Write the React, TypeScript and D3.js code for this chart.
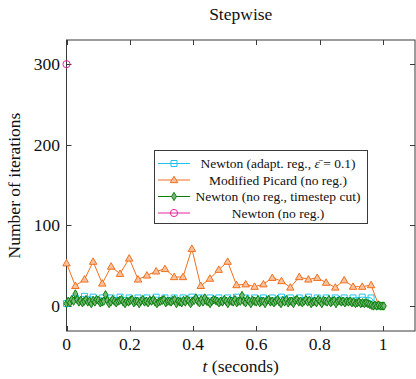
import React, { useRef, useEffect } from 'react';
import { select, scaleLinear, line, symbol, symbolSquare, symbolTriangle, symbolDiamond } from 'd3';

// time of each Picard / adaptive Newton step (seconds)
const stepTimes = [
    0, 0.028, 0.057, 0.084, 0.113, 0.141, 0.169, 0.198, 0.226, 0.254, 0.283, 0.311, 0.34, 0.368, 0.396, 0.424,
    0.453, 0.481, 0.509, 0.537, 0.566, 0.594, 0.622, 0.65, 0.679, 0.707, 0.735, 0.764, 0.792, 0.82, 0.849, 0.877,
    0.905, 0.934, 0.962, 0.985,
];
const picardIters = [
    53, 25, 33, 55, 28, 49, 40, 59, 33, 38, 43, 46, 36, 36, 71, 25, 34, 45, 55, 26, 27, 24, 27, 35, 31, 23, 36, 33,
    35, 29, 23, 32, 24, 24, 26, 2,
];
const adaptIters = [
    3, 10, 12, 11, 10, 10, 11, 10, 10, 10, 11, 10, 10, 10, 11, 10, 10, 10, 10, 11, 10, 10, 10, 10, 11, 10, 10, 11,
    10, 10, 10, 10, 10, 11, 10, 0,
];
// Newton with timestep cut: many small steps
const cutStep = 0.0056;
const cutIters = [
    3, 6, 4, 8, 6, 15, 8, 5, 7, 4, 6, 8, 5, 6, 3, 7, 5, 8, 7, 4,
    5, 6, 14, 7, 3, 5, 8, 6, 4, 6, 7, 8, 5, 3, 6, 5, 7, 8, 4, 6,
    6, 3, 6, 8, 5, 6, 4, 7, 6, 8, 5, 3, 5, 6, 7, 8, 4, 6, 6, 5,
    7, 8, 3, 6, 5, 4, 7, 5, 8, 6, 3, 6, 7, 10, 6, 4, 8, 5, 10, 6,
    5, 3, 6, 8, 7, 6, 4, 6, 5, 8, 6, 3, 7, 6, 5, 8, 4, 6, 6, 13,
    6, 4, 8, 6, 3, 7, 6, 5, 8, 4, 6, 6, 3, 7, 8, 5, 6, 4, 6, 8,
    5, 3, 7, 5, 8, 4, 6, 6, 3, 7, 8, 5, 6, 4, 6, 8, 5, 7, 3, 5,
    6, 4, 8, 6, 3, 7, 6, 5, 8, 4, 6, 7, 3, 6, 7, 5, 6, 4, 6, 5,
    6, 4, 5, 3, 4, 5, 3, 4, 3, 4, 3, 2,
    1, 0, 1, 0, 1, 0, 0, 0,
];
const plainTimes = [0];
const plainIters = [300];

const xTicks = [0, 0.2, 0.4, 0.6, 0.8, 1];
const yTicks = [0, 100, 200, 300];
const legendLabels = [
    'Newton (adapt. reg., ε̄ = 0.1)',
    'Modified Picard (no reg.)',
    'Newton (no reg., timestep cut)',
    'Newton (no reg.)',
];

const fontFamily = "'Liberation Serif', 'Times New Roman', Times, 'DejaVu Serif', serif";
const cyan = '#1fc4ec';
const orange = '#f0701e';
const green = '#0a800a';
const magenta = '#e8259c';

export default function App() {
    const svgRef: { current: SVGSVGElement | null } = useRef(null);

    useEffect(() => {
        const svg = select(svgRef.current);
        svg.selectAll('*').remove();
        const left = 66.5;
        const right = 415;
        const top = 40;
        const bottom = 331;

        const xScale = scaleLinear().domain([0, 1.1]).range([left, left + 1.1 * 316.6]);
        const yScale = scaleLinear().domain([-31, 330]).range([bottom, top]);

        const txt = (x: number, y: number, size: number, anchor = 'middle') =>
            svg.append('text').attr('x', x).attr('y', y).attr('text-anchor', anchor)
                .style('font-family', fontFamily).style('font-size', size + 'px').attr('fill', '#111');

        // title + axis labels
        txt((left + right) / 2, 20, 17.5).text('Stepwise');
        const xl = txt((left + right) / 2, 372, 17.5);
        xl.append('tspan').attr('font-style', 'italic').text('t');
        xl.append('tspan').text(' (seconds)');
        txt(0, 0, 17.5).attr('transform', `translate(20,${(top + bottom) / 2}) rotate(-90)`)
            .text('Number of iterations');

        // axis box and ticks
        const ax = svg.append('g').attr('stroke', '#3a3a3a').attr('stroke-width', 1);
        ax.append('rect').attr('x', left).attr('y', top).attr('width', right - left).attr('height', bottom - top)
            .attr('fill', 'none');
        xTicks.forEach((t) => {
            const x = Math.round(xScale(t)) + 0.5;
            ax.append('line').attr('x1', x).attr('x2', x).attr('y1', bottom).attr('y2', bottom - 5);
            ax.append('line').attr('x1', x).attr('x2', x).attr('y1', top).attr('y2', top + 5);
            txt(xScale(t), 350, 17.5).text(String(t));
        });
        yTicks.forEach((v) => {
            const y = Math.round(yScale(v)) + 0.5;
            ax.append('line').attr('x1', left).attr('x2', left + 5).attr('y1', y).attr('y2', y);
            ax.append('line').attr('x1', right).attr('x2', right - 5).attr('y1', y).attr('y2', y);
            txt(60, yScale(v) + 6, 17.5, 'end').text(String(v));
        });

        const mkLine: any = line<[number, number]>()
            .x((d) => xScale(d[0]))
            .y((d) => yScale(d[1]));

        const series = [
            { pts: stepTimes.map((t, i) => [t, adaptIters[i]]), color: cyan, fill: 'none', shape: 'square' },
            { pts: stepTimes.map((t, i) => [t, picardIters[i]]), color: orange, fill: '#f9c29e', shape: 'triangle' },
            { pts: cutIters.map((v, i) => [i * cutStep, v]), color: green, fill: '#7ab87a', shape: 'diamond' },
            { pts: plainTimes.map((t, i) => [t, plainIters[i]]), color: magenta, fill: 'none', shape: 'circle' },
        ];

        const drawMarker = (g: any, shape: string, color: string, fill: string, x: number, y: number) => {
            if (shape === 'circle') {
                g.append('circle').attr('cx', x).attr('cy', y).attr('r', 3.6)
                    .attr('fill', fill).attr('stroke', color).attr('stroke-width', 1);
                return;
            }
            const type = shape === 'square' ? symbolSquare : shape === 'triangle' ? symbolTriangle : symbolDiamond;
            const size = shape === 'square' ? 36 : shape === 'triangle' ? 24 : 20;
            g.append('path').attr('d', symbol(type, size)())
                .attr('transform', `translate(${x},${y + (shape === 'triangle' ? 0.5 : 0)})`)
                .attr('fill', fill).attr('stroke', color).attr('stroke-width', 1);
        };

        series.forEach((s) => {
            const g = svg.append('g');
            g.append('path').attr('d', mkLine(s.pts)).attr('fill', 'none').attr('stroke', s.color)
                .attr('stroke-width', 1);
            s.pts.forEach((p: any) => drawMarker(g, s.shape, s.color, s.fill, xScale(p[0]), yScale(p[1])));
        });

        // legend
        const lg = svg.append('g');
        lg.append('rect').attr('x', 154.5).attr('y', 150.5).attr('width', 213).attr('height', 73)
            .attr('fill', 'white').attr('stroke', '#3a3a3a');
        series.forEach((s, i) => {
            const y = 163.5 + i * 16.5;
            lg.append('line').attr('x1', 158).attr('x2', 190).attr('y1', y).attr('y2', y)
                .attr('stroke', s.color).attr('stroke-width', 1);
            drawMarker(lg, s.shape, s.color, s.fill, 174, y);
            const tx = lg.append('text').attr('x', 278).attr('y', y + 4.5).attr('text-anchor', 'middle')
                .style('font-family', fontFamily).style('font-size', '13.5px').attr('fill', '#111');
            if (i === 0) {
                tx.append('tspan').text('Newton (adapt. reg., ');
                tx.append('tspan').attr('font-style', 'italic').text('ε̄');
                tx.append('tspan').text(' = 0.1)');
            } else {
                tx.text(legendLabels[i]);
            }
        });
    }, []);

    return <svg ref={svgRef} width={416} height={379} style={{ position: 'absolute', left: 0, top: 0 }} />;
}
